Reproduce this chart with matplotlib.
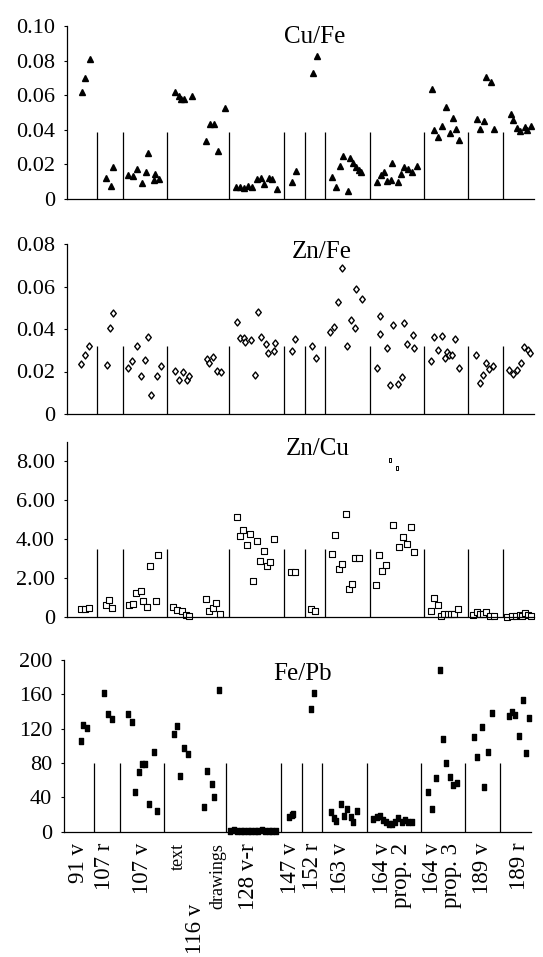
import matplotlib
matplotlib.use("Agg")
import matplotlib.pyplot as plt
from matplotlib.path import Path

plt.rcParams['font.family'] = ['Liberation Serif', 'DejaVu Serif']

# ---------------- data ----------------
# sample positions along the shared horizontal axis; group separators
separators = [30, 56, 100, 162, 217, 238, 258, 303, 357, 401, 436]
x_max = 467

group_labels = ["91 v", "107 r", "107 v", "text", "116 v", "drawings", "128 v-r",
                "147 v", "152 r", "163 v", "164 v\nprop. 2", "164 v\nprop. 3",
                "189 v", "189 r"]
label_pos = [14.5, 40.4, 78.3, 114.5, 131.7, 153.4, 185, 226.5, 249, 276.5,
             328, 378, 418, 455.7]

cufe_x = [15.6, 18.6, 23, 39.3, 44, 46.6, 61.6, 66, 70.3, 75, 79, 81.6, 87.3, 88, 92.3,
          108.3, 112.3, 114.3, 117.3, 125.3, 139.3, 143, 147.3, 151.6, 158,
          169.6, 173.6, 177.6, 181.6, 185.6, 190.3, 194, 197.3, 202, 205.3, 210,
          225.6, 229.6, 246, 250,
          265.3, 269.3, 273.3, 276.6, 281.6, 283, 286.6, 289.3, 292.3, 294,
          310, 314, 317.6, 320, 324.3, 325.6, 331.6, 334.6, 337.6, 341.6, 345, 350,
          365.3, 367.3, 371.6, 375.6, 379, 383.3, 386.3, 389, 392.6,
          410, 413.6, 417.3, 419.3, 424.3, 427.3,
          444, 446.5, 450, 453, 458.5, 460, 464]
cufe_y = [0.062, 0.070, 0.081, 0.012, 0.0077, 0.0187,
          0.0139, 0.0133, 0.0173, 0.0094, 0.0156, 0.0268, 0.011, 0.0143, 0.0116,
          0.062, 0.0595, 0.0578, 0.0576, 0.0594, 0.0337, 0.0434, 0.0434, 0.0277, 0.0528,
          0.0067, 0.0071, 0.0062, 0.0077, 0.0067, 0.0116, 0.0119, 0.0085, 0.0121, 0.0114, 0.0056,
          0.010, 0.0164, 0.0727, 0.0829,
          0.0129, 0.0071, 0.0193, 0.0249, 0.0048, 0.0235, 0.021, 0.0187, 0.0168, 0.0158,
          0.010, 0.0137, 0.0158, 0.0104, 0.0108, 0.0206, 0.0098, 0.0143, 0.0187, 0.0175, 0.0154, 0.0193,
          0.0636, 0.0399, 0.0356, 0.0422, 0.0534, 0.038, 0.047, 0.0405, 0.0341,
          0.0464, 0.0403, 0.0451, 0.0703, 0.0676, 0.0407,
          0.049, 0.0457, 0.041, 0.0395, 0.0415, 0.040, 0.042]

znfe_x = [14.6, 18.3, 22, 40, 43, 46.3,
          61, 65.3, 70.6, 74, 78, 81.3, 84.6, 90.3, 94.3,
          108.3, 112, 116.6, 120, 122.6, 140, 142.6, 146.6, 150, 154.3,
          170.3, 173.6, 177.6, 178.6, 184, 188, 191.3, 194.3, 199, 201.6, 207, 208.3,
          225.3, 228.3, 245.3, 249,
          263.6, 267.6, 271, 275.3, 280, 284, 288, 289.6, 295,
          310, 313.6, 313.6, 320.3, 323, 326.6, 331, 335.3, 337, 340.6, 346.6, 347.3,
          364.6, 367.3, 371.3, 375.3, 378, 380.6, 382.6, 385.3, 388.3, 392.3,
          409.3, 413, 416.3, 419.6, 422.6, 426.6,
          442.6, 446.4, 450.5, 454, 457.4, 461, 463.7]
znfe_y = [0.0235, 0.0278, 0.032, 0.0232, 0.0403, 0.0474,
          0.0217, 0.025, 0.032, 0.0179, 0.0256, 0.0362, 0.0089, 0.0179, 0.0226,
          0.0202, 0.0158, 0.0198, 0.0158, 0.0179, 0.0259, 0.0242, 0.027, 0.0202, 0.0196,
          0.0431, 0.0359, 0.0359, 0.0337, 0.0347, 0.0185, 0.0479, 0.0364, 0.0328, 0.0286, 0.0297, 0.0333,
          0.0298, 0.0351, 0.032, 0.0262,
          0.0386, 0.041, 0.0527, 0.0689, 0.0318, 0.0444, 0.0403, 0.0588, 0.054,
          0.0217, 0.0375, 0.0461, 0.0311, 0.0137, 0.0417, 0.0141, 0.0173, 0.043, 0.033, 0.037, 0.0311,
          0.025, 0.0364, 0.030, 0.0369, 0.0265, 0.029, 0.028, 0.0276, 0.0355, 0.0217,
          0.028, 0.0144, 0.0184, 0.0242, 0.0212, 0.0228,
          0.0205, 0.019, 0.0205, 0.024, 0.0315, 0.030, 0.0285]

zncu_x = [14, 18, 22, 39, 42.6, 45.6,
          62.6, 66.6, 69.3, 74, 76, 80.6, 83.6, 89, 91,
          106.6, 110.6, 115, 119.3, 122, 139.3, 142.6, 146.3, 149.3, 153.3,
          170, 173.3, 176, 180, 183, 186.6, 190, 193.6, 197, 200.6, 203.3, 207,
          224.6, 228.3, 244.6, 248.3,
          265.3, 268.3, 272, 275.3, 279.3, 282.3, 285.6, 288.6, 292.6,
          309.3, 312.3, 315.6, 319.6, 326.6, 332.3, 336.3, 340, 344, 347,
          364, 367, 371.3, 374.3, 377.5, 381, 384, 387, 391,
          406.6, 410, 413.3, 416.6, 419.6, 423.3, 427.3,
          440.3, 445.6, 449.5, 453, 455.7, 458.5, 461, 464.5]
zncu_y = [0.39, 0.41, 0.43, 0.60, 0.84, 0.46,
          0.58, 0.64, 1.22, 1.32, 0.81, 0.50, 2.61, 0.82, 3.18,
          0.48, 0.34, 0.29, 0.09, 0.05, 0.91, 0.31, 0.43, 0.72, 0.14,
          5.15, 4.17, 4.45, 3.69, 4.27, 1.84, 3.88, 2.88, 3.36, 2.59, 2.83, 3.98,
          2.32, 2.32, 0.39, 0.29,
          3.24, 4.2, 2.47, 2.7, 5.29, 1.42, 1.7, 3.02, 3.02,
          1.65, 3.19, 2.37, 2.66, 4.72, 3.6, 4.1, 3.73, 4.62, 3.35,
          0.31, 0.94, 0.60, 0.05, 0.12, 0.15, 0.15, 0.15, 0.38,
          0.09, 0.24, 0.12, 0.15, 0.24, 0.05, 0.05,
          0.0, 0.02, 0.05, 0.1, 0.05, 0.2, 0.1, 0.05]
zncu_high_x = [323.6, 330.6]
zncu_high_y = [8.05, 7.64]

fepb_x = [16.7, 19.3, 22.7, 40, 44, 48,
          64.3, 68.3, 71.3, 74.6, 78, 81.3, 85.3, 90, 92.6,
          110.3, 113.3, 116.3, 120, 123.6, 140.3, 143.3, 147.6, 150.3, 154.6,
          166, 169.5, 173, 176.5, 180, 183.5, 187, 190.5, 194, 197.5, 201, 204.5, 208, 211.5,
          225, 227.5, 229, 246.6, 250.3,
          266.6, 270, 272, 276.6, 280, 283.3, 286.6, 289.3, 293.3,
          309.3, 312.6, 316, 318.6, 322, 325.3, 328, 331, 334.3, 337.6, 341, 344.3, 347.6,
          364.3, 368.3, 372, 376, 379.3, 382, 386, 389.3, 392.6,
          410, 413.3, 417.6, 420, 424.3, 427.6,
          444.7, 448.2, 450.9, 455, 458.5, 461.9, 465]
fepb_y = [105.6, 124.7, 120.4, 161, 137.5, 131,
          136.7, 127.4, 46.6, 69.9, 78.4, 79.2, 31.8, 92.4, 24,
          113.8, 122.7, 64.8, 97, 90.5, 28.7, 71, 55, 41, 165.4,
          1.0, 1.5, 0.8, 1.2, 1.0, 0.7, 1.3, 1.1, 0.9, 1.4, 1.0, 0.8, 1.2, 1.0,
          17.5, 19.5, 21, 142.9, 161.9,
          23.3, 15.5, 12.8, 31.8, 18.2, 26.4, 16.7, 10.9, 24.1,
          14.8, 16.7, 18.6, 13.6, 11.6, 8.5, 9.3, 11.6, 16.3, 10.9, 13.2, 10.9, 10.9,
          46.6, 26.4, 62.1, 188.3, 108, 79.6, 63.3, 54.4, 57.1,
          109.9, 87.4, 122.3, 52.4, 92.4, 138.2,
          135, 140, 136, 111, 153, 92, 132]

# ---------------- styling helpers ----------------
diamond = Path([(0, 1), (0.8, 0), (0, -1), (-0.8, 0), (0, 1)],
               [Path.MOVETO, Path.LINETO, Path.LINETO, Path.LINETO, Path.CLOSEPOLY])
tall_rect = Path([(-0.8, -1), (0.8, -1), (0.8, 1), (-0.8, 1), (-0.8, -1)],
                 [Path.MOVETO, Path.LINETO, Path.LINETO, Path.LINETO, Path.CLOSEPOLY])
thin_rect = Path([(-0.6, -1), (0.6, -1), (0.6, 1), (-0.6, 1), (-0.6, -1)],
                 [Path.MOVETO, Path.LINETO, Path.LINETO, Path.LINETO, Path.CLOSEPOLY])

W, H = 543, 957
fig = plt.figure(figsize=(W / 100, H / 100), dpi=100)


def make_axes(left_px, top_px, bottom_px):
    return fig.add_axes([left_px / W, 1 - bottom_px / H,
                         x_max / W, (bottom_px - top_px) / H])


def style(ax, ylim, ticks, labels, sep_h):
    ax.set_xlim(0, x_max)
    ax.set_ylim(*ylim)
    for s in ('top', 'right'):
        ax.spines[s].set_visible(False)
    for s in ('left', 'bottom'):
        ax.spines[s].set_linewidth(0.9)
    ax.set_xticks([])
    ax.set_yticks(ticks)
    ax.set_yticklabels(labels)
    ax.tick_params(axis='y', length=2.5, width=0.8, pad=6, labelsize=16)
    ax.vlines(separators, 0, sep_h, color='black', lw=0.9)


def title(ax, text, x, y):
    ax.text(x, y, text, transform=ax.transAxes, ha='center', va='baseline',
            fontsize=18)


# Panel 1: Cu/Fe
ax1 = make_axes(66.7, 26, 199)
style(ax1, (0, 0.10), [0, 0.02, 0.04, 0.06, 0.08, 0.10],
      ["0", "0.02", "0.04", "0.06", "0.08", "0.10"], 0.039)
ax1.plot(cufe_x, cufe_y, ls='none', marker='^', ms=5, color='black', clip_on=False)
title(ax1, "Cu/Fe", 0.531, 0.90)

# Panel 2: Zn/Fe
ax2 = make_axes(66.7, 244, 414)
style(ax2, (0, 0.08), [0, 0.02, 0.04, 0.06, 0.08],
      ["0", "0.02", "0.04", "0.06", "0.08"], 0.032)
ax2.plot(znfe_x, znfe_y, ls='none', marker=diamond, ms=5, mfc='white',
         mec='black', mew=1.0, clip_on=False)
title(ax2, "Zn/Fe", 0.547, 0.916)

# Panel 3: Zn/Cu
ax3 = make_axes(66.7, 442, 616.7)
style(ax3, (0, 9), [0, 2, 4, 6, 8], ["0", "2.00", "4.00", "6.00", "8.00"], 3.5)
ax3.plot(zncu_x, zncu_y, ls='none', marker=tall_rect, ms=5, mfc='white',
         mec='black', mew=0.8, clip_on=False)
ax3.plot(zncu_high_x, zncu_high_y, ls='none', marker=tall_rect, ms=2.5, mfc='white',
         mec='black', mew=0.7, clip_on=False)
title(ax3, "Zn/Cu", 0.537, 0.926)

# Panel 4: Fe/Pb
ax4 = make_axes(64, 660, 831.7)
style(ax4, (0, 200), [0, 40, 80, 120, 160, 200],
      ["0", "40", "80", "120", "160", "200"], 80)
ax4.plot(fepb_x, fepb_y, ls='none', marker=thin_rect, ms=4.4, color='black', clip_on=False)
title(ax4, "Fe/Pb", 0.51, 0.883)

# group labels under the bottom panel
for lab, xp in zip(group_labels, label_pos):
    fs = 13 if lab in ("text", "drawings") else 16.5
    drop = 52 if lab == "116 v" else 8
    ax4.annotate(lab, xy=(xp, 0), xycoords=('data', 'axes fraction'),
                 xytext=(0, -drop), textcoords='offset points',
                 rotation=90, ha='center', va='top', fontsize=fs,
                 multialignment='right', linespacing=0.9)

fig.savefig("out.png", dpi=100)
